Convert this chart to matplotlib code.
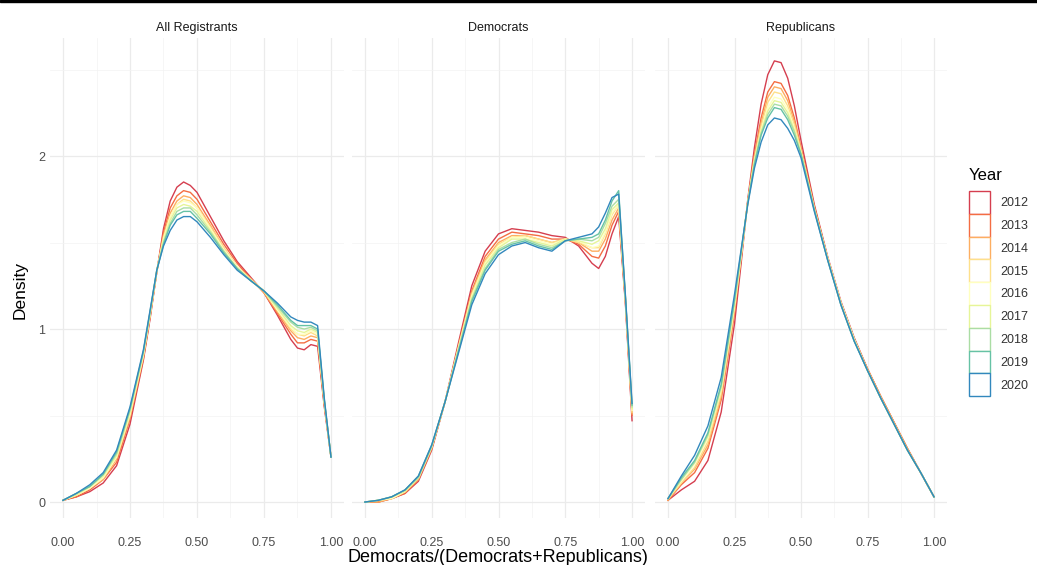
# -*- coding: utf-8 -*-
import matplotlib.pyplot as plt
import matplotlib.patches as mpatches

plt.rcParams['font.family'] = ['Liberation Sans', 'DejaVu Sans']

years = ['2012', '2013', '2014', '2015', '2016', '2017', '2018', '2019', '2020']
colors = ['#D53E4F', '#F46D43', '#FDAE61', '#FEE08B', '#FFFFBF',
          '#E6F598', '#ABDDA4', '#66C2A5', '#3288BD']
panel_titles = ['All Registrants', 'Democrats', 'Republicans']

# share of registrants who are democrats (two-party), estimated density per year
x_all = [0, .05, .1, .15, .2, .25, .3, .325, .35, .375, .4, .425, .45, .475, .5,
         .55, .6, .65, .7, .75, .8, .85, .875, .9, .925, .95, .975, 1.0]
dens_all = {
    '2012': [.01, .03, .06, .11, .21, .45, .82, 1.06, 1.33, 1.58, 1.74, 1.82, 1.85, 1.83, 1.79, 1.65, 1.51, 1.39, 1.30, 1.21, 1.08, .94, .89, .88, .91, .90, .55, .26],
    '2013': [.01, .03, .07, .13, .23, .48, .83, 1.07, 1.33, 1.56, 1.70, 1.77, 1.80, 1.79, 1.75, 1.62, 1.49, 1.38, 1.29, 1.21, 1.09, .97, .92, .92, .94, .93, .56, .26],
    '2014': [.01, .04, .08, .13, .25, .49, .84, 1.08, 1.33, 1.54, 1.67, 1.74, 1.77, 1.76, 1.72, 1.60, 1.47, 1.36, 1.29, 1.21, 1.10, .99, .95, .94, .96, .95, .57, .26],
    '2015': [.01, .04, .08, .14, .26, .50, .85, 1.08, 1.33, 1.53, 1.65, 1.72, 1.75, 1.74, 1.70, 1.59, 1.47, 1.36, 1.29, 1.22, 1.11, 1.00, .97, .96, .98, .96, .58, .26],
    '2016': [.01, .04, .08, .14, .26, .51, .85, 1.09, 1.34, 1.52, 1.65, 1.72, 1.74, 1.73, 1.70, 1.58, 1.46, 1.36, 1.28, 1.22, 1.11, 1.01, .97, .97, .99, .97, .58, .26],
    '2017': [.01, .04, .09, .15, .27, .52, .86, 1.09, 1.34, 1.51, 1.63, 1.70, 1.72, 1.71, 1.68, 1.57, 1.45, 1.35, 1.28, 1.22, 1.12, 1.02, .99, .98, 1.00, .98, .58, .26],
    '2018': [.01, .05, .09, .16, .28, .53, .87, 1.10, 1.34, 1.50, 1.61, 1.68, 1.70, 1.70, 1.66, 1.56, 1.45, 1.35, 1.28, 1.22, 1.13, 1.04, 1.01, 1.00, 1.01, .99, .59, .26],
    '2019': [.01, .05, .09, .16, .29, .54, .87, 1.10, 1.34, 1.49, 1.60, 1.66, 1.68, 1.68, 1.64, 1.55, 1.44, 1.35, 1.28, 1.22, 1.14, 1.05, 1.02, 1.02, 1.02, 1.00, .59, .26],
    '2020': [.01, .05, .10, .17, .30, .55, .88, 1.11, 1.34, 1.48, 1.57, 1.63, 1.65, 1.65, 1.62, 1.53, 1.43, 1.34, 1.28, 1.22, 1.15, 1.07, 1.05, 1.04, 1.04, 1.02, .60, .26],
}

x_dem = [0, .05, .1, .15, .2, .25, .3, .35, .4, .45, .5, .55, .6, .65, .7, .75,
         .8, .85, .875, .9, .925, .95, .975, 1.0]
dens_dem = {
    '2012': [0, .00, .02, .05, .12, .30, .58, .92, 1.25, 1.45, 1.55, 1.58, 1.57, 1.56, 1.54, 1.53, 1.48, 1.38, 1.35, 1.42, 1.55, 1.65, 1.15, .47],
    '2013': [0, .00, .02, .05, .13, .31, .58, .90, 1.22, 1.42, 1.52, 1.56, 1.55, 1.54, 1.52, 1.52, 1.49, 1.42, 1.41, 1.48, 1.60, 1.68, 1.16, .50],
    '2014': [0, .00, .02, .06, .13, .31, .58, .90, 1.21, 1.40, 1.50, 1.54, 1.54, 1.52, 1.50, 1.52, 1.50, 1.45, 1.45, 1.52, 1.63, 1.70, 1.17, .51],
    '2015': [0, .01, .02, .06, .14, .32, .58, .89, 1.20, 1.39, 1.49, 1.53, 1.54, 1.52, 1.50, 1.52, 1.50, 1.47, 1.47, 1.55, 1.66, 1.72, 1.18, .52],
    '2016': [0, .01, .02, .06, .14, .32, .58, .89, 1.19, 1.38, 1.48, 1.53, 1.53, 1.51, 1.49, 1.52, 1.51, 1.47, 1.48, 1.56, 1.67, 1.72, 1.18, .53],
    '2017': [0, .01, .03, .06, .14, .32, .58, .88, 1.18, 1.37, 1.47, 1.52, 1.52, 1.50, 1.48, 1.52, 1.51, 1.49, 1.51, 1.58, 1.69, 1.73, 1.18, .54],
    '2018': [0, .01, .03, .07, .14, .32, .58, .88, 1.17, 1.35, 1.46, 1.50, 1.52, 1.49, 1.47, 1.51, 1.52, 1.51, 1.53, 1.61, 1.71, 1.75, 1.19, .55],
    '2019': [0, .01, .03, .07, .15, .33, .58, .87, 1.16, 1.34, 1.45, 1.49, 1.51, 1.48, 1.46, 1.51, 1.52, 1.53, 1.55, 1.63, 1.74, 1.80, 1.19, .56],
    '2020': [0, .01, .03, .07, .15, .33, .58, .86, 1.14, 1.32, 1.43, 1.48, 1.50, 1.47, 1.45, 1.51, 1.53, 1.55, 1.59, 1.67, 1.76, 1.78, 1.20, .57],
}

x_rep = [0, .05, .1, .15, .2, .25, .275, .3, .325, .35, .375, .4, .425, .45,
         .475, .5, .55, .6, .65, .7, .75, .8, .85, .9, .95, 1.0]
dens_rep = {
    '2012': [.01, .07, .12, .24, .52, 1.03, 1.38, 1.75, 2.05, 2.30, 2.47, 2.55, 2.54, 2.45, 2.29, 2.09, 1.72, 1.42, 1.16, .95, .77, .61, .46, .31, .17, .03],
    '2013': [.01, .10, .17, .31, .59, 1.09, 1.41, 1.74, 2.01, 2.22, 2.37, 2.43, 2.42, 2.35, 2.22, 2.05, 1.71, 1.41, 1.15, .94, .77, .61, .46, .31, .17, .03],
    '2014': [.01, .11, .19, .33, .61, 1.11, 1.42, 1.74, 2.00, 2.19, 2.34, 2.40, 2.39, 2.32, 2.20, 2.04, 1.70, 1.41, 1.15, .94, .77, .61, .46, .31, .17, .03],
    '2015': [.02, .11, .20, .35, .63, 1.12, 1.42, 1.73, 1.98, 2.17, 2.31, 2.37, 2.36, 2.29, 2.18, 2.03, 1.70, 1.41, 1.15, .94, .76, .60, .45, .30, .17, .03],
    '2016': [.02, .12, .22, .37, .65, 1.14, 1.43, 1.73, 1.97, 2.15, 2.28, 2.34, 2.33, 2.27, 2.16, 2.02, 1.69, 1.41, 1.15, .94, .76, .60, .45, .30, .17, .03],
    '2017': [.02, .13, .23, .38, .66, 1.15, 1.44, 1.73, 1.97, 2.14, 2.26, 2.32, 2.31, 2.25, 2.15, 2.02, 1.69, 1.41, 1.15, .94, .76, .60, .45, .30, .17, .03],
    '2018': [.02, .13, .23, .39, .67, 1.16, 1.44, 1.73, 1.96, 2.13, 2.24, 2.30, 2.29, 2.23, 2.14, 2.01, 1.69, 1.40, 1.14, .93, .76, .60, .45, .30, .17, .03],
    '2019': [.02, .14, .24, .40, .68, 1.17, 1.45, 1.73, 1.95, 2.12, 2.22, 2.28, 2.27, 2.21, 2.12, 2.01, 1.69, 1.40, 1.14, .93, .76, .60, .45, .30, .17, .03],
    '2020': [.02, .15, .27, .44, .72, 1.20, 1.46, 1.72, 1.93, 2.08, 2.18, 2.22, 2.21, 2.16, 2.09, 1.99, 1.68, 1.40, 1.14, .93, .76, .60, .45, .30, .17, .03],
}

x_ticks = [0, 0.25, 0.5, 0.75, 1.0]
x_ticklabels = ['0.00', '0.25', '0.50', '0.75', '1.00']
y_ticks = [0, 1, 2]
y_ticklabels = ['0', '1', '2']


def style_panel(ax, title, show_y):
    ax.set_xlim(-0.05, 1.05)
    ax.set_ylim(-0.09, 2.68)
    ax.set_xticks(x_ticks)
    ax.set_xticklabels(x_ticklabels)
    ax.set_xticks([0.125, 0.375, 0.625, 0.875], minor=True)
    ax.set_yticks(y_ticks)
    ax.set_yticklabels(y_ticklabels if show_y else [])
    ax.set_yticks([0.5, 1.5, 2.5], minor=True)
    ax.grid(which='major', color='#EBEBEB', linewidth=0.9)
    ax.grid(which='minor', color='#F3F3F3', linewidth=0.5)
    ax.set_axisbelow(True)
    for s in ax.spines.values():
        s.set_visible(False)
    ax.tick_params(which='both', length=0, labelsize=9, labelcolor='#4D4D4D')
    ax.tick_params(axis='x', pad=14)
    ax.tick_params(axis='y', pad=3)
    ax.set_title(title, fontsize=9, color='#1A1A1A', pad=5)


def draw_panel(ax, xs, dens, title, show_y):
    for year, c in zip(years, colors):
        ax.plot(xs, dens[year], color=c, linewidth=1.0)
    style_panel(ax, title, show_y)


if __name__ == '__main__':
    W, H = 1037, 565
    fig = plt.figure(figsize=(W / 100, H / 100), dpi=100)

    bottom = 1 - 517.6 / H
    height = (517.6 - 38.4) / H
    lefts = [49.6, 351.6, 654.7]
    rights = [344.4, 645.4, 947.3]
    data = [(x_all, dens_all), (x_dem, dens_dem), (x_rep, dens_rep)]

    for i in range(3):
        ax = fig.add_axes([lefts[i] / W, bottom, (rights[i] - lefts[i]) / W, height])
        draw_panel(ax, data[i][0], data[i][1], panel_titles[i], i == 0)

    fig.text(20 / W, 1 - 290 / H, 'Density', rotation=90, fontsize=12.5,
             ha='center', va='center')
    fig.text(498 / W, 1 - 557 / H, 'Democrats/(Democrats+Republicans)',
             fontsize=13, ha='center', va='center')

    # legend: outlined keys stacked without gaps, title placed on its own
    fig.text(969 / W, 1 - 175 / H, 'Year', fontsize=12, ha='left', va='center')
    handles = [mpatches.Patch(facecolor='white', edgecolor=c, linewidth=1.0)
               for c in colors]
    leg = fig.legend(handles, years, loc='upper left',
                     bbox_to_anchor=(969 / W, 1 - 191 / H), frameon=False,
                     fontsize=9, handlelength=1.7, handleheight=2.43,
                     labelspacing=0.0, handletextpad=0.8,
                     borderpad=0, borderaxespad=0)
    for t in leg.get_texts():
        t.set_color('#333333')

    # dark strip along the top edge
    fig.add_artist(mpatches.Rectangle((0, 1 - 2 / H), 1, 2 / H,
                                      transform=fig.transFigure,
                                      color='black', zorder=10))

    fig.savefig('out.png', dpi=100)
